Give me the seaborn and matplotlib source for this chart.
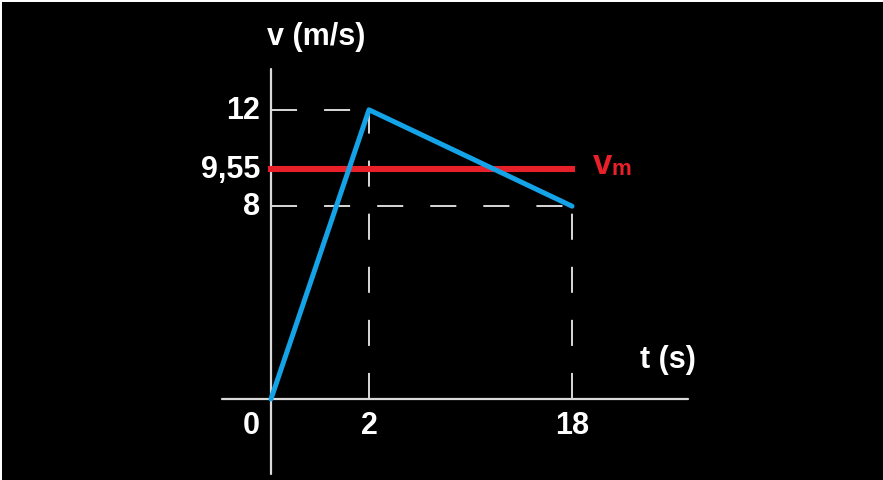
import matplotlib
matplotlib.use("Agg")
import matplotlib.pyplot as plt
import numpy as np
import pandas as pd
import seaborn as sns

# velocity-time data (schematic chart, axis not to scale)
t_values = [0, 2, 18]
v_values = [0, 12, 8]
v_mean = 9.55
x_tick_labels = ["0", "2", "18"]
y_ticks = [12, 9.55, 8]
y_tick_labels = ["12", "9,55", "8"]

BLUE = "#14a3e6"
RED = "#e8202a"
GREY = "#d9d9d9"

# the original time axis is stretched: 0-2 is wide, 2-18 is compressed
SEG1 = 49.0
SEG2 = 12.69
VSCALE = 24.1  # pixels per m/s


def fwd(t):
    t = np.asarray(t, dtype=float)
    return np.where(t <= 2, t * SEG1, 2 * SEG1 + (t - 2) * SEG2)


def inv(p):
    p = np.asarray(p, dtype=float)
    return np.where(p <= 2 * SEG1, p / SEG1, 2 + (p - 2 * SEG1) / SEG2)


sns.set_theme(style="dark")
plt.rcParams["font.family"] = ["Liberation Sans", "DejaVu Sans"]
plt.rcParams["font.weight"] = "bold"

fig = plt.figure(figsize=(8.83, 4.81), dpi=100, facecolor="white")
# thin white margin only on the top and left, like the original screenshot
ax = fig.add_axes([2 / 883, -2 / 481, 883 / 883, 480 / 481])

df = pd.DataFrame({"t": t_values, "v": v_values})

# velocity curve
sns.lineplot(data=df, x="t", y="v", color=BLUE, lw=3.6, ax=ax,
             sort=False, zorder=4)

ax.set_xscale("function", functions=(fwd, inv))
ax.set_xlim(-269 / SEG1, 2 + (614 - 2 * SEG1) / SEG2)
ax.set_ylim(-83 / VSCALE, 397 / VSCALE)
ax.set_facecolor("black")
ax.grid(False)
ax.set_xticks([])
ax.set_yticks([])
ax.set_xlabel("")
ax.set_ylabel("")
for s in ax.spines.values():
    s.set_visible(False)

# axes lines
ax.plot([-1.0, 27.1], [0, 0], color=GREY, lw=1.6, zorder=1)
ax.plot([0, 0], [-3.1, 13.7], color=GREY, lw=1.6, zorder=1)

# dashed guide lines (horizontals start at the v axis, verticals at the t axis)
dash = dict(color=GREY, lw=1.4, dashes=(13.4, 13.9), zorder=2)
for t, v in zip(t_values[1:], v_values[1:]):
    ax.plot([0, t], [v, v], **dash)
    ax.plot([t, t], [0, v], **dash)

# mean velocity line
ax.plot([0, t_values[-1]], [v_mean, v_mean], color=RED, lw=4.4,
        solid_capstyle="projecting", zorder=3)

txt = dict(color="white", fontsize=22, fontweight="bold")

for y, lab in zip(y_ticks, y_tick_labels):
    ax.annotate(lab, (0, y), xytext=(-11, 0), textcoords="offset pixels",
                ha="right", va="center", **txt)

for t, lab in zip(t_values, x_tick_labels):
    dx = -20 if t == 0 else 0
    ax.annotate(lab, (t, 0), xytext=(dx, -26), textcoords="offset pixels",
                ha="center", va="center", **txt)

ax.annotate("v (m/s)", (0, 13.7), xytext=(45, 33), textcoords="offset pixels",
            ha="center", va="center", **txt)
ax.annotate("t (s)", (27.1, 0), xytext=(-20, 40), textcoords="offset pixels",
            ha="center", va="center", **txt)

# v_m label
ax.annotate("v", (t_values[-1], v_mean), xytext=(21, -4), textcoords="offset pixels",
            ha="left", va="baseline", color=RED, fontsize=25, fontweight="bold")
ax.annotate("m", (t_values[-1], v_mean), xytext=(39, -5), textcoords="offset pixels",
            ha="left", va="baseline", color=RED, fontsize=16, fontweight="bold")

fig.savefig("out.png", dpi=100, facecolor=fig.get_facecolor())
